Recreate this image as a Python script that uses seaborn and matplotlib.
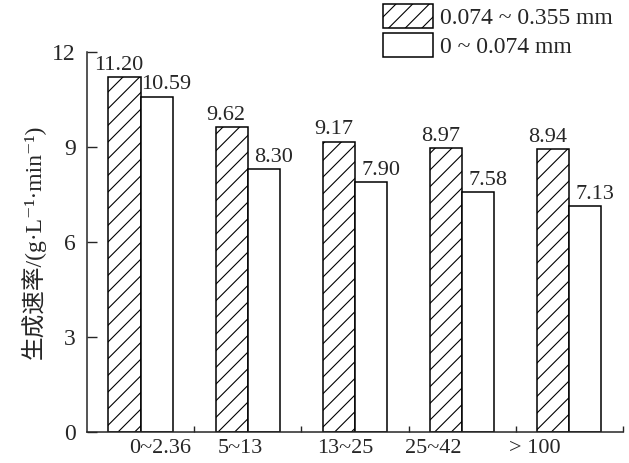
import pandas as pd
import numpy as np
import seaborn as sns
import matplotlib.pyplot as plt
from matplotlib.ticker import FixedLocator

# data
groups = ['0~2.36', '5~13', '13~25', '25~42', '> 100']
series = ['0.074 ~ 0.355 mm', '0 ~ 0.074 mm']
coarse = [11.20, 9.62, 9.17, 8.97, 8.94]
fine = [10.59, 8.30, 7.90, 7.58, 7.13]
yticks = [0, 3, 6, 9, 12]

df = pd.DataFrame({
    'group': groups * 2,
    'size': [series[0]] * len(groups) + [series[1]] * len(groups),
    'rate': coarse + fine,
})

sns.set_style('ticks')
plt.rcParams['font.family'] = ['Liberation Serif', 'Noto Sans CJK SC', 'DejaVu Serif']
plt.rcParams['hatch.linewidth'] = 0.8

fig = plt.figure(figsize=(6.29, 4.63), dpi=100)
ax = fig.add_axes([0.1383, 0.067, 0.852, 0.821])

sns.barplot(data=df, x='group', y='rate', hue='size', order=groups, hue_order=series,
            palette=['white', 'white'], saturation=1, edgecolor='black', linewidth=1.1,
            width=0.6, errorbar=None, ax=ax, legend=False)

for bar in ax.containers[0]:
    bar.set_hatch('//')

# value labels: hatched ones lean left, plain ones lean right
for cont, dx in zip(ax.containers, [-4, 7]):
    for bar in cont:
        h = bar.get_height()
        ax.annotate('%.2f' % h, (bar.get_x() + bar.get_width() / 2, h),
                    xytext=(dx, 1.5), textcoords='offset points',
                    ha='center', va='bottom', fontsize=16)

ax.set_xlim(-0.5, 4.5)
ax.set_ylim(0, 12)
ax.set_yticks(yticks)
ax.tick_params(axis='y', direction='in', length=7, width=1, labelsize=17, pad=8)

# category labels sit a bit off the group centres in the original
ax.xaxis.set_major_locator(FixedLocator([0.18, 0.93, 1.91, 2.73, 3.68]))
ax.set_xticklabels(groups)
ax.xaxis.set_minor_locator(FixedLocator([0.5, 1.5, 2.5, 3.5, 4.5]))
ax.tick_params(axis='x', which='major', length=0, labelsize=16, pad=5)
ax.tick_params(axis='x', which='minor', direction='in', length=4, width=1)

ax.set_xlabel('')
ax.set_ylabel('生成速率/(g·L⁻¹·min⁻¹)', fontsize=17, labelpad=5)

sns.despine(ax=ax, top=True, right=True)
for s in ['left', 'bottom']:
    ax.spines[s].set_linewidth(1.1)

ax.legend(handles=[ax.containers[0][0], ax.containers[1][0]], labels=series,
          loc='upper left', bbox_to_anchor=(383 / 629, 1 - 4 / 463), bbox_transform=fig.transFigure,
          frameon=False, fontsize=17, handlelength=2.1, handleheight=1.2,
          handletextpad=0.3, labelspacing=0.15, borderpad=0, borderaxespad=0)

fig.savefig('out.png', dpi=100)
